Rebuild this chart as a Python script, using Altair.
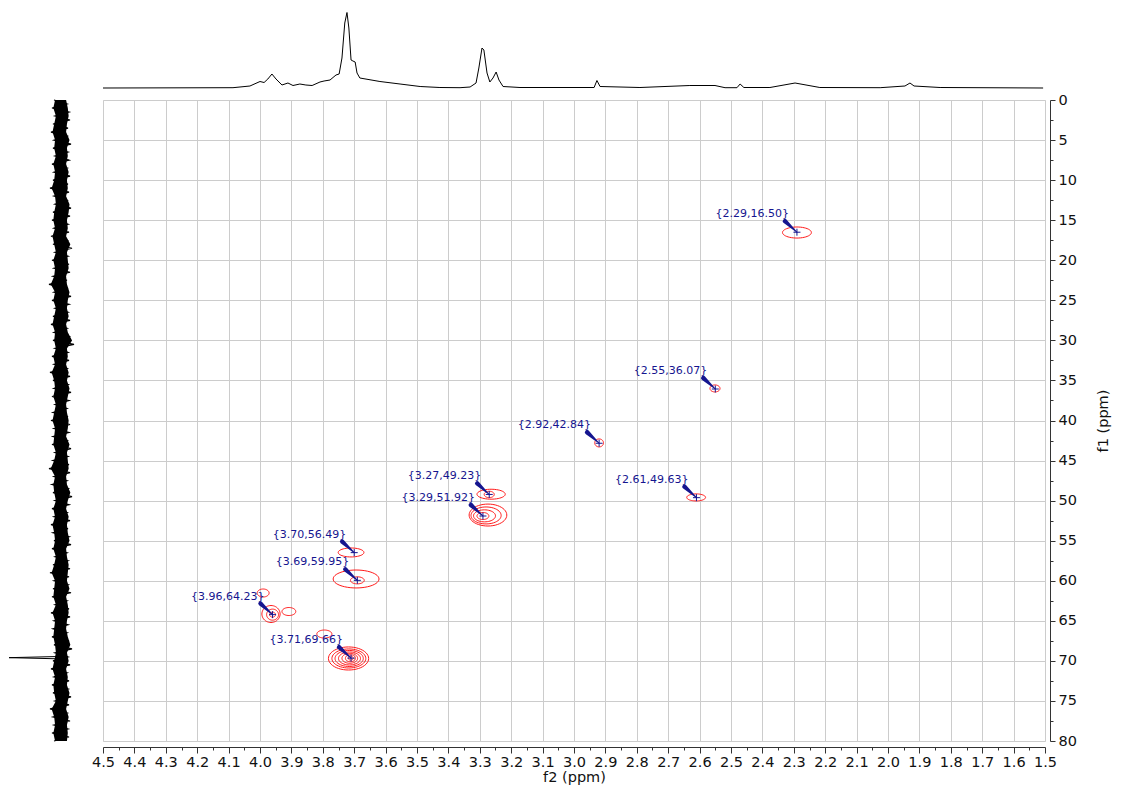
import altair as alt
import pandas as pd
import numpy as np

# ---------------- layout ----------------
W, H = 942, 641
F2_MIN, F2_MAX = 1.5, 4.5
F1_MIN, F1_MAX = 0, 80
NAVY = "#15158f"
FONT = "DejaVu Sans"

# ---------------- data ----------------
# picked cross peaks (f2, f1)
peak_f2 = [2.29, 2.55, 2.92, 2.61, 3.27, 3.29, 3.70, 3.69, 3.96, 3.71]
peak_f1 = [16.50, 36.07, 42.84, 49.63, 49.23, 51.92, 56.49, 59.95, 64.23, 69.66]

# contour levels: centre f2, centre f1, half-width f2 (ppm), half-height f1 (ppm)
contour_f2 = [2.290, 2.551, 2.920, 2.611, 3.264, 3.270, 3.274, 3.280, 3.285, 3.290,
              3.710, 3.694, 3.690, 3.965, 3.960, 3.960, 3.908, 3.990,
              3.718, 3.717, 3.716, 3.715, 3.714, 3.712, 3.711, 3.795]
contour_f1 = [16.54, 36.00, 42.80, 49.60, 49.20, 49.23, 51.80, 51.85, 51.90, 51.92,
              56.47, 59.78, 59.95, 64.15, 64.23, 64.23, 63.84, 61.53,
              69.70, 69.70, 69.70, 69.70, 69.68, 69.67, 69.66, 66.65]
contour_rx = [0.046, 0.016, 0.014, 0.030, 0.045, 0.016, 0.060, 0.048, 0.035, 0.019,
              0.041, 0.073, 0.022, 0.029, 0.019, 0.0096, 0.022, 0.019,
              0.064, 0.054, 0.045, 0.035, 0.025, 0.016, 0.008, 0.024]
contour_ry = [0.69, 0.44, 0.50, 0.44, 0.62, 0.40, 1.37, 1.06, 0.75, 0.44,
              0.56, 1.12, 0.44, 1.06, 0.69, 0.31, 0.50, 0.50,
              1.44, 1.19, 1.00, 0.81, 0.62, 0.44, 0.25, 0.50]

# 1H projection (top): ppm, intensity
top_ppm = [4.500, 4.086, 4.032, 4.000, 3.987, 3.975, 3.962, 3.949, 3.930, 3.911,
           3.895, 3.873, 3.854, 3.834, 3.809, 3.796, 3.777, 3.758, 3.748, 3.739,
           3.730, 3.723, 3.717, 3.710, 3.704, 3.697, 3.691, 3.682, 3.618, 3.554,
           3.490, 3.427, 3.363, 3.331, 3.312, 3.303, 3.293, 3.287, 3.277, 3.268,
           3.258, 3.248, 3.239, 3.226, 3.172, 2.936, 2.927, 2.917, 2.790, 2.631,
           2.551, 2.519, 2.481, 2.471, 2.459, 2.376, 2.296, 2.217, 2.025, 1.946,
           1.930, 1.917, 1.834, 1.506]
top_int = [0.0, 0.3, 2.0, 6.5, 5.5, 9.0, 14.0, 9.0, 3.0, 5.0,
           2.5, 4.0, 3.0, 2.5, 6.0, 7.0, 8.0, 13.0, 14.0, 30.0,
           65.0, 75.5, 60.0, 28.0, 27.0, 26.0, 15.0, 10.0, 6.5, 4.0,
           1.5, 0.5, 0.3, 1.0, 5.0, 20.0, 40.0, 38.0, 15.0, 6.0,
           10.0, 16.0, 8.0, 1.5, 0.5, 0.5, 7.5, 1.5, 0.5, 2.5,
           2.5, 0.3, 0.3, 4.0, 0.5, 0.5, 5.0, 0.5, 0.3, 2.0,
           5.0, 2.0, 0.5, 0.0]

# 13C projection (left): noise envelope every 1 ppm, plus one spike
noise_f1 = list(range(0, 81))
noise_left = [7, 9, 6, 8, 10, 7, 8, 6, 9, 7,
              8, 11, 7, 6, 8, 9, 7, 10, 8, 6,
              9, 7, 8, 12, 7, 9, 6, 8, 10, 7,
              8, 6, 9, 7, 11, 8, 7, 9, 6, 8,
              10, 7, 8, 9, 6, 8, 12, 7, 9, 8,
              6, 9, 7, 10, 8, 7, 9, 6, 8, 11,
              7, 8, 9, 6, 10, 7, 8, 9, 7, 6,
              8, 10, 7, 9, 8, 6, 11, 8, 7, 9,
              7]
noise_right = [-6, -8, -9, -7, -6, -10, -7, -8, -6, -9,
               -7, -8, -6, -10, -9, -7, -8, -6, -11, -7,
               -8, -9, -6, -7, -10, -8, -7, -9, -6, -8,
               -13, -7, -8, -6, -9, -7, -10, -8, -6, -7,
               -9, -8, -6, -10, -7, -8, -9, -6, -7, -11,
               -8, -6, -9, -7, -8, -10, -6, -7, -9, -8,
               -7, -10, -6, -8, -9, -7, -6, -8, -11, -7,
               -9, -6, -8, -7, -10, -8, -6, -9, -7, -8,
               -7]
spike_f1 = [69.45, 69.60, 69.75]
spike_int = [0, 52, 0]

# axis tick values
x_ticks = [round(F2_MIN + 0.05 * i, 2) for i in range(61)]
y_ticks = [2.5 * i for i in range(33)]

# ---------------- tables ----------------
rows = []
t = np.linspace(0, 2 * np.pi, 48, endpoint=False)
for cid, (cx, cy, rx, ry) in enumerate(zip(contour_f2, contour_f1, contour_rx, contour_ry)):
    for k, tt in enumerate(t):
        rows.append({"cid": cid, "k": k, "f2": cx + rx * np.cos(tt), "f1": cy + ry * np.sin(tt)})
contours_df = pd.DataFrame(rows)

peaks_df = pd.DataFrame({"f2": peak_f2, "f1": peak_f1})
peaks_df["label"] = ["{%.2f,%.2f}" % (a, b) for a, b in zip(peak_f2, peak_f1)]

# arrow from label corner to peak (offset in px converted to ppm)
ADX = 12 * (F2_MAX - F2_MIN) / W
ADY = 11 * (F1_MAX - F1_MIN) / H
arr = []
for a, b, lab in zip(peak_f2, peak_f1, peaks_df["label"]):
    arr.append({"label": lab, "k": 0, "f2": a + ADX, "f1": b - ADY, "w": 4.5})
    arr.append({"label": lab, "k": 1, "f2": a, "f1": b, "w": 0.8})
arrows_df = pd.DataFrame(arr)

top_df = pd.DataFrame({"f2": top_ppm, "inten": top_int})

# noise band: a solid core plus a zig-zag trace reaching the read envelope
core_df = pd.DataFrame({"f1": noise_f1,
                        "hi": [0.85 * v for v in noise_left],
                        "lo": [0.85 * v for v in noise_right]})
zz = []
for i, (f, a, b) in enumerate(zip(noise_f1, noise_left, noise_right)):
    zz.append({"k": 2 * i, "f1": f, "inten": a})
    if i < len(noise_f1) - 1:
        zz.append({"k": 2 * i + 1, "f1": f + 0.5, "inten": b})
zig_df = pd.DataFrame(zz)
spike_df = pd.DataFrame({"f1": spike_f1, "inten": spike_int, "k": [0, 1, 2]})

# ---------------- scales / axes ----------------
xscale = alt.Scale(domain=[F2_MIN, F2_MAX], reverse=True, nice=False, zero=False)
yscale = alt.Scale(domain=[F1_MIN, F1_MAX], reverse=True, nice=False, zero=False)

x_major = "abs(datum.value*10 - round(datum.value*10)) < 0.001"
y_major = "datum.value % 5 == 0"

xaxis = alt.Axis(
    values=x_ticks, orient="bottom", offset=6,
    grid=True, gridColor="#cccccc", gridWidth=1,
    gridOpacity={"condition": {"test": x_major, "value": 1}, "value": 0},
    tickSize={"condition": {"test": x_major, "value": 6}, "value": 3},
    tickColor="#333333", domainColor="#333333",
    labelExpr=f"{x_major} ? format(datum.value, '.1f') : ''",
    labelFont=FONT, labelFontSize=14.5, labelColor="#111111",
    labelFlush=False, labelOverlap=False, labelPadding=2,
    title="f2 (ppm)", titleFont=FONT, titleFontSize=14.5, titleFontWeight="normal",
    titleColor="#111111", titlePadding=2,
)
yaxis = alt.Axis(
    values=y_ticks, orient="right", offset=5,
    grid=True, gridColor="#cccccc", gridWidth=1,
    gridOpacity={"condition": {"test": y_major, "value": 1}, "value": 0},
    tickSize={"condition": {"test": y_major, "value": 5}, "value": 3},
    tickColor="#333333", domainColor="#333333",
    labelExpr=f"{y_major} ? format(datum.value, 'd') : ''",
    labelFont=FONT, labelFontSize=14.5, labelColor="#111111",
    labelFlush=False, labelOverlap=False, labelPadding=3, labelAlign="left",
    title="f1 (ppm)", titleFont=FONT, titleFontSize=14.5, titleFontWeight="normal",
    titleColor="#111111", titleAngle=270, titlePadding=34,
)

X = alt.X("f2:Q", scale=xscale, axis=xaxis)
Y = alt.Y("f1:Q", scale=yscale, axis=yaxis)

contours = alt.Chart(contours_df).mark_line(
    interpolate="linear-closed", color="#ff1a1a", strokeWidth=1
).encode(x=X, y=Y, detail="cid:N", order="k:Q")

arrows = alt.Chart(arrows_df).mark_trail(color=NAVY).encode(
    x=X, y=Y, size=alt.Size("w:Q", scale=None, legend=None), detail="label:N", order="k:Q"
)

markers = alt.Chart(peaks_df).mark_point(
    shape="M-1,0L1,0M0,-1L0,1", size=49, filled=False, strokeWidth=1, color=NAVY, opacity=1
).encode(x=X, y=Y)

labels = alt.Chart(peaks_df).mark_text(
    align="right", baseline="middle", dx=-8, dy=-18,
    font=FONT, fontSize=11, color=NAVY
).encode(x=X, y=Y, text="label:N")

main = alt.layer(contours, arrows, markers, labels)

top = alt.Chart(top_df).mark_line(color="black", strokeWidth=1).encode(
    x=alt.X("f2:Q", scale=xscale, axis=None),
    y=alt.Y("inten:Q", scale=alt.Scale(domain=[0, 80], range=[-12, -92], nice=False, zero=False), axis=None),
)

left_x = alt.Scale(domain=[0, 50], range=[-42, -92], nice=False, zero=False)
core = alt.Chart(core_df).mark_area(orient="horizontal", color="black").encode(
    y=alt.Y("f1:Q", scale=yscale, axis=None),
    x=alt.X("hi:Q", scale=left_x, axis=None),
    x2="lo:Q",
)
zig = alt.Chart(zig_df).mark_line(color="black", strokeWidth=1.2).encode(
    y=alt.Y("f1:Q", scale=yscale, axis=None),
    x=alt.X("inten:Q", scale=left_x, axis=None),
    order="k:Q",
)
spike = alt.Chart(spike_df).mark_line(color="black", strokeWidth=1).encode(
    y=alt.Y("f1:Q", scale=yscale, axis=None),
    x=alt.X("inten:Q", scale=left_x, axis=None),
    order="k:Q",
)
left = alt.layer(core, zig, spike)

chart = alt.layer(main, top, left).resolve_scale(
    x="independent", y="independent"
).properties(
    width=W, height=H,
    autosize=alt.AutoSizeParams(type="none"),
    padding={"left": 95, "top": 92, "right": 69, "bottom": 45},
).configure_view(stroke=None).configure(background="white")

chart.save("out.html", embed_options={"renderer": "svg", "actions": False})
